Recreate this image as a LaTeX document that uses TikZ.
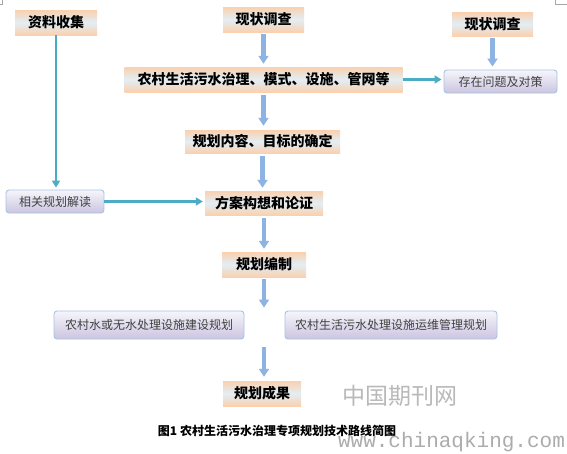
\documentclass[tikz,border=0pt]{standalone}
\usepackage{fontspec}
\newfontfamily\cjk{Noto Sans CJK SC}
\newfontfamily\monof{Liberation Mono}
\usetikzlibrary{arrows.meta,calc}
\definecolor{peach}{HTML}{FAD0AE}
\definecolor{paleblue}{HTML}{E2EEF6}
\definecolor{lavtop}{HTML}{F6F5FB}
\definecolor{lavbot}{HTML}{CBC5E0}
\definecolor{lavline}{HTML}{A9C3E2}
\definecolor{bluearr}{HTML}{8DB3E2}
\definecolor{tealarr}{HTML}{4BACC6}
\tikzset{
  peachbox/.style={minimum height=25pt, inner sep=0pt, top color=peach, bottom color=peach, middle color=paleblue,
    font=\cjk\bfseries\fontsize{14}{14}\selectfont, text=black},
  lavbox/.style={minimum height=23pt, inner sep=0pt, rounded corners=3pt, draw=lavline, line width=0.9pt,
    top color=lavtop, bottom color=lavbot, font=\cjk\fontsize{12}{12}\selectfont, text=black!75},
  bluearrow/.style={draw=bluearr, line width=4.5pt, -{Triangle[width=10pt,length=8pt]}},
  tealarrow/.style={draw=tealarr, line width=2.6pt, -{Triangle[width=8pt,length=7pt]}},
}
\begin{document}
\begin{tikzpicture}[x=1pt,y=-1pt]
\useasboundingbox (0,0) rectangle (567,453);
\fill[white] (0,0) rectangle (567,453);
% corner marks
\draw[gray!70, line width=0.6pt] (2,0) -- (2,4) -- (0,4);
\draw[gray!70, line width=0.6pt] (555,0) -- (555,4) -- (567,4);
% nodes
\node[peachbox, minimum width=82pt] (zl) at (56,22.5) {资料收集};
\node[peachbox, minimum width=81pt] (xz1) at (263.5,19.5) {现状调查};
\node[peachbox, minimum width=81pt, minimum height=24pt] (xz2) at (492.5,24) {现状调查};
\node[peachbox, minimum width=278pt] (nc) at (263.5,79.5) {农村生活污水治理、模式、设施、管网等};
\node[lavbox, minimum width=113pt] (cz) at (500.5,81.5) {存在问题及对策};
\node[peachbox, minimum width=155pt, minimum height=23pt] (gh) at (262.5,141.5) {规划内容、目标的确定};
\node[lavbox, minimum width=98pt] (xg) at (55,201.5) {相关规划解读};
\node[peachbox, minimum width=118pt, minimum height=24pt] (fa) at (264,203) {方案构想和论证};
\node[peachbox, minimum width=84pt] (bz) at (264,264.5) {规划编制};
\node[lavbox, minimum width=190pt, minimum height=28pt] (a1) at (149,325) {农村水或无水处理设施建设规划};
\node[lavbox, minimum width=212pt, minimum height=28pt] (a2) at (391,325) {农村生活污水处理设施运维管理规划};
\node[peachbox, minimum width=78pt] (cg) at (262,393.5) {规划成果};
\coordinate (gapin) at (264,307.5);
\coordinate (gapout) at (264,347);
% watermark and caption
\node[text=gray!55, font=\cjk\fontsize{23}{23}\selectfont] (wm) at (400,396) {中国期刊网};
\node[text=black, font=\cjk\bfseries\fontsize{12}{12}\selectfont] (cap) at (277,430.5) {图1 农村生活污水治理专项规划技术路线简图};
\node[text=gray!65, font=\monof\fontsize{21}{21}\selectfont, inner sep=0pt] (url) at (451.5,442) {www.chinaqking.com};
% blue arrows
\draw[bluearrow, shorten <=2pt, shorten >=3pt] (xz1.south) -- (xz1.south |- nc.north);
\draw[bluearrow, shorten <=2pt, shorten >=3pt] (xz2.south) -- (xz2.south |- cz.north);
\draw[bluearrow, shorten <=3pt, shorten >=4pt] (nc.south) -- (nc.south |- gh.north);
\draw[bluearrow, shorten <=3pt, shorten >=3pt] (gh.south) -- (gh.south |- fa.north);
\draw[bluearrow, shorten <=3pt, shorten >=3pt] (fa.south) -- (fa.south |- bz.north);
\draw[bluearrow, shorten <=2pt] (bz.south) -- (gapin);
\draw[bluearrow, shorten >=4pt] (gapout) -- (gapout |- cg.north);
% teal arrows
\draw[tealarrow, shorten >=2pt] (zl.south) -- (zl.south |- xg.north);
\draw[tealarrow, shorten >=2pt] (nc.east) -- (nc.east -| cz.west);
\draw[tealarrow, shorten >=2pt] (xg.east) -- (xg.east -| fa.west);
\end{tikzpicture}
\end{document}
